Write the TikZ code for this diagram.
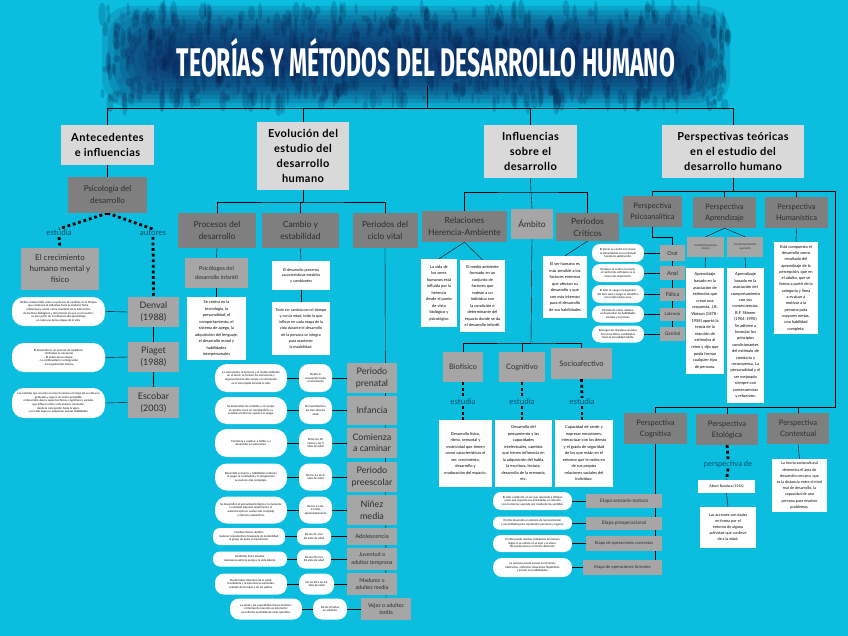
\documentclass[tikz,border=0pt]{standalone}
\usepackage{fontspec}
\setmainfont{Lato}
\newfontfamily\negrita[LetterSpace=4]{Lato}
\newfontfamily\titulofont{Fira Sans}
\usetikzlibrary{positioning}

\definecolor{cian}{RGB}{11,190,224}
\definecolor{azul1}{RGB}{34,80,150}
\definecolor{azul2}{RGB}{16,42,100}
\definecolor{azul3}{RGB}{8,22,64}
\definecolor{grisA}{RGB}{217,217,217}
\definecolor{grisB}{RGB}{127,127,127}
\definecolor{grisC}{RGB}{166,166,166}
\definecolor{texto}{RGB}{45,45,45}
\definecolor{etiq}{RGB}{8,78,108}

\pgfdeclarelayer{fondo}
\pgfdeclarelayer{lineas}
\pgfsetlayers{fondo,lineas,main}

\begin{document}
\begin{tikzpicture}[x=1pt, y=-1pt, line width=2.6pt,
    nivelA/.style={fill=grisA, text=black, font=\negrita\bfseries\fontsize{11}{15}\selectfont, align=center, inner sep=0pt},
    nivelB/.style={fill=grisB, text=texto, font=\fontsize{8.5}{12}\selectfont, align=center, inner sep=0pt},
    nivelC/.style={fill=grisC, text=texto, font=\fontsize{8}{10}\selectfont, align=center, inner sep=0pt},
    blanco/.style={fill=white, text=black, font=\fontsize{4}{6.5}\selectfont, align=center, inner sep=0pt},
    ovalo/.style={fill=white, rounded corners=#1, text=black, font=\fontsize{2.8}{3.6}\selectfont, align=center, inner sep=0pt},
    ovalo/.default=7pt,
    tam/.style 2 args={minimum width=#1pt, minimum height=#2pt},
    etiqueta/.style={text=etiq, font=\fontsize{8}{9}\selectfont, inner sep=1pt},
    punteado/.style={line width=2.8pt, dash pattern=on 2.8pt off 2.8pt},
  ]
  \useasboundingbox (0,0) rectangle (848,636);

  % fondo y banda del titulo
  \begin{pgfonlayer}{fondo}
    \fill[cian] (0,0) rectangle (848,636);
    \foreach \k in {0,...,11}
      \fill[azul2, opacity=.17, rounded corners=28pt] (102+6*\k,6+4.5*\k) rectangle (730-6*\k,107-4*\k);
    \pgfmathsetseed{11}
    \foreach \i in {1,...,650} {
      \pgfmathsetmacro\px{102+628*rnd}
      \pgfmathsetmacro\py{8+98*rnd}
      \pgfmathsetmacro\rx{1.2+2.8*rnd}
      \pgfmathsetmacro\ry{3+9*rnd}
      \fill[azul3, opacity=.2] (\px,\py) ellipse ({\rx pt} and {\ry pt});
    }
    \foreach \i in {1,...,160} {
      \pgfmathsetmacro\px{115+600*rnd}
      \pgfmathsetmacro\py{14+86*rnd}
      \pgfmathsetmacro\rx{1+2*rnd}
      \pgfmathsetmacro\ry{2+6*rnd}
      \fill[azul1, opacity=.25] (\px,\py) ellipse ({\rx pt} and {\ry pt});
    }
  \end{pgfonlayer}

  \node[text=white, font=\titulofont\bfseries\fontsize{40}{40}\selectfont, xscale=0.575] (titulo) at (426,58) {TEORÍAS Y MÉTODOS DEL DESARROLLO HUMANO};
  \coordinate (tbase) at (427,86);

  % nivel 1
  \node[nivelA, tam={93}{40}] (ante) at (107.5,145) {Antecedentes\\e influencias};
  \node[nivelA, tam={92}{68}] (evol) at (303,156) {Evolución del\\estudio del\\desarrollo\\humano};
  \node[nivelA, tam={93}{53}] (infl) at (530.5,151.5) {Influencias\\sobre el\\desarrollo};
  \node[nivelA, tam={142}{53}] (persp) at (733,151.5) {Perspectivas teóricas\\en el estudio del\\desarrollo humano};
  \coordinate (bus) at (427,108);

  % antecedentes
  \node[nivelB, font=\fontsize{8}{12}\selectfont, tam={79}{36}] (psicodes) at (107.5,195) {Psicología del\\desarrollo};
  \node[etiqueta] (estudia1) at (59,233) {estudia};
  \node[etiqueta] (autores) at (153,233) {autores};
  \node[nivelC, font=\fontsize{8}{11}\selectfont, tam={78}{42}] (crecim) at (60,269) {El crecimiento\\humano mental y\\físico};
  \node[nivelC, font=\fontsize{9}{12}\selectfont, tam={51}{30}] (denval) at (153.5,312) {Denval\\(1988)};
  \node[nivelC, font=\fontsize{9}{12}\selectfont, tam={51}{30}] (piaget) at (153.5,357) {Piaget\\(1988)};
  \node[nivelC, font=\fontsize{9}{12}\selectfont, tam={51}{31}] (escobar) at (153.5,402.5) {Escobar\\(2003)};
  \node[ovalo=12pt, tam={93}{29}] (ovden) at (58.5,311.5) {Define el desarrollo como un proceso de cambios en el tiempo\\que conducen al individuo hacia la madurez física,\\intelectual y social, como resultado de la interacción\\de factores biológicos y del entorno en que se encuentra;\\se da a partir de la influencia del aprendizaje\\en cada una de las etapas de la vida.};
  \node[ovalo=12pt, tam={93}{29}] (ovpia) at (58.5,357.5) {El desarrollo es un proceso de equilibrio:\\- El tiempo es necesario\\- El orden de las etapas\\- La continuidad y la integración\\- La organización interna};
  \node[ovalo=12pt, tam={93}{30}] (ovesc) at (58.5,403) {Los cambios que ocurren en el ser humano a lo largo de su vida son\\graduales y siguen un orden previsible;\\el desarrollo abarca aspectos físicos, cognitivos y sociales\\que influyen entre sí de manera constante,\\desde la concepción hasta la vejez,\\y en cada etapa se adquieren nuevas habilidades.};

  % evolucion
  \coordinate (evbus) at (303,202);
  \node[nivelB, tam={78}{35}] (procesos) at (217,230.5) {Procesos del\\desarrollo};
  \node[nivelB, tam={77}{35}] (cambio) at (300.5,230.5) {Cambio y\\estabilidad};
  \node[nivelB, tam={65}{35}] (periodos) at (385,230.5) {Periodos del\\ciclo vital};
  \node[nivelC, font=\fontsize{5.6}{9}\selectfont, tam={63}{30}] (psicinf) at (216.5,273) {Psicólogos del\\desarrollo infantil};
  \node[blanco, tam={59}{63}] (txtpsicinf) at (216.5,328.5) {Se centra en la\\tecnología, la\\personalidad, el\\comportamiento, el\\sistema de apego, la\\adquisición del lenguaje,\\el desarrollo moral y\\habilidades\\interpersonales};
  \node[blanco, font=\fontsize{3.8}{5.5}\selectfont, tam={58}{29}] (txtcambio1) at (301,275.5) {El desarrollo presenta\\características estables\\y cambiantes};
  \node[blanco, font=\fontsize{3.8}{6.2}\selectfont, tam={58}{53}] (txtcambio2) at (301,328.5) {Todo ser cambia con el tiempo\\y con la edad, todo lo que\\influye en cada etapa de la\\vida durante el desarrollo\\de la persona se integra\\para mantener\\la estabilidad.};

  % periodos del ciclo vital
  \node[nivelC, font=\fontsize{9}{11.5}\selectfont, tam={50}{30}] (prenatal) at (372,378) {Periodo\\prenatal};
  \node[nivelC, font=\fontsize{9}{11.5}\selectfont, tam={50}{29}] (infancia) at (372,410.5) {Infancia};
  \node[nivelC, font=\fontsize{9}{11.5}\selectfont, tam={50}{30}] (caminar) at (372,443) {Comienza\\a caminar};
  \node[nivelC, font=\fontsize{9}{11.5}\selectfont, tam={50}{30}] (preesc) at (372,477) {Periodo\\preescolar};
  \node[nivelC, font=\fontsize{9}{11.5}\selectfont, tam={50}{30}] (ninez) at (372,510) {Niñez\\media};
  \node[nivelC, font=\fontsize{5.8}{7}\selectfont, tam={50}{17}] (adolesc) at (372,536.5) {Adolescencia};
  \node[nivelC, font=\fontsize{5.4}{7.5}\selectfont, tam={50}{22}] (juventud) at (372,559) {Juventud o\\adultez temprana};
  \node[nivelC, font=\fontsize{5.4}{7.5}\selectfont, tam={50}{22}] (madurez) at (372,584) {Madurez o\\adultez media};
  \node[nivelC, font=\fontsize{5.4}{7.5}\selectfont, tam={50}{22}] (vejez) at (386,609) {Vejez o adultez\\tardía};

  \node[ovalo=10pt, tam={33}{28}] (edad1) at (315.5,378) {Desde la\\concepción hasta\\el nacimiento};
  \node[ovalo=10pt, tam={33}{27}] (edad2) at (315.5,410.5) {Del nacimiento a\\los tres años de\\edad};
  \node[ovalo=10pt, tam={33}{28}] (edad3) at (315.5,443) {Entre los 18\\meses y los 3\\años de edad};
  \node[ovalo=10pt, tam={33}{27}] (edad4) at (315.5,477) {De los 3 a los 6\\años de edad};
  \node[ovalo=10pt, tam={33}{27}] (edad5) at (315.5,510) {De los 6 a los\\11 años\\aproximadamente};
  \node[ovalo=7pt, tam={34}{17}] (edad6) at (314,536.5) {De los 11 a los\\20 años de edad};
  \node[ovalo=8pt, tam={34}{19}] (edad7) at (314,559) {De los 20 a los\\40 años de edad};
  \node[ovalo=9pt, tam={35}{21}] (edad8) at (316.5,584) {De los 40 a los 65\\años de edad};
  \node[ovalo=9pt, tam={34}{21}] (edad9) at (330,609) {De los 65 años\\en adelante};

  \node[ovalo=12pt, tam={72}{28}] (desc1) at (251,378) {La concepción, la herencia y el medio ambiente\\en el útero; se forman las estructuras y\\órganos básicos del cuerpo; el crecimiento\\es el más rápido de toda la vida.};
  \node[ovalo=12pt, tam={72}{27}] (desc2) at (251,410.5) {Se desarrollan los sentidos y el cuerpo;\\el cerebro crece en complejidad y es\\sensible al entorno; aparece el apego.};
  \node[ovalo=12pt, tam={72}{28}] (desc3) at (251,443) {Comienza a caminar, a hablar y a\\desarrollar su autonomía.};
  \node[ovalo=12pt, tam={72}{27}] (desc4) at (251,477) {Desarrolla su fuerza y habilidades motoras;\\el juego, la creatividad y la imaginación\\se vuelven más complejos.};
  \node[ovalo=12pt, tam={72}{27}] (desc5) at (251,510) {Se desarrollan el pensamiento lógico y la memoria;\\la amistad adquiere importancia; el\\autoconcepto se vuelve más complejo\\y afecta la autoestima.};
  \node[ovalo=7pt, tam={72}{17}] (desc6) at (249,536.5) {Cambios físicos rápidos;\\madurez reproductiva; búsqueda de la identidad;\\el grupo de pares es importante.};
  \node[ovalo=7pt, tam={74}{15}] (desc7) at (250,559) {Condición física máxima;\\decisiones sobre la pareja y la vida laboral.};
  \node[ovalo=9pt, tam={72}{21}] (desc8) at (251,584) {Puede haber deterioro de la salud;\\la sabiduría y la experiencia aumentan;\\cuidado de los hijos y de los padres.};
  \node[ovalo=9pt, tam={72}{21}] (desc9) at (266,609) {La salud y las capacidades físicas declinan;\\el tiempo de reacción es más lento;\\se enfrenta la pérdida de seres queridos.};

  % influencias
  \coordinate (inbus) at (531,192);
  \node[nivelB, tam={85}{31}] (relaciones) at (464.5,226.5) {Relaciones\\Herencia-Ambiente};
  \node[nivelC, font=\fontsize{8.5}{10}\selectfont, tam={42}{30}] (ambito) at (532,224) {Ámbito};
  \node[nivelB, tam={63}{28}] (criticos) at (587.5,227) {Periodos\\Críticos};
  \node[blanco, tam={36}{68}] (txther) at (439,293) {La vida de\\los seres\\humanos está\\influida por la\\herencia\\desde el punto\\de vista\\biológico y\\psicológico};
  \node[blanco, tam={45}{72}] (txtamb) at (482.5,296) {El medio ambiente\\formado en un\\conjunto de\\factores que\\rodean a un\\individuo son\\la condición o\\determinante del\\espacio donde se da\\el desarrollo infantil.};
  \node[blanco, tam={44}{62}] (txtcrit) at (565,287) {El ser humano es\\más sensible a los\\factores externos\\que afectan su\\desarrollo y que\\son más intensos\\para el desarrollo\\de sus habilidades};

  \coordinate (ambus) at (531,343);
  \node[nivelC, font=\fontsize{7.5}{9}\selectfont, tam={40}{30}] (biofis) at (463,367) {Biofísico};
  \node[nivelC, font=\fontsize{7.5}{9}\selectfont, tam={46}{30}] (cognitivo) at (522,367) {Cognitivo};
  \node[nivelC, font=\fontsize{7.5}{9}\selectfont, tam={61}{31}] (socioaf) at (581.5,363.5) {Socioafectivo};
  \node[etiqueta] (estudia2) at (463,402) {estudia};
  \node[etiqueta] (estudia3) at (522,402) {estudia};
  \node[etiqueta] (estudia4) at (582,402) {estudia};
  \node[blanco, tam={53}{67}] (txtbio) at (465.5,453.5) {Desarrollo físico,\\ritmo, sensorial y\\motricidad que tienen\\como características el\\ser, crecimiento,\\desarrollo y\\maduración del espacio.};
  \node[blanco, tam={57}{67}] (txtcog) at (523.5,453.5) {Desarrollo del\\pensamiento y las\\capacidades\\intelectuales, cambios\\que tienen influencia en\\la adquisición del habla,\\la escritura, lectura,\\desarrollo de la memoria,\\etc.};
  \node[blanco, tam={58}{67}] (txtsoc) at (584,453.5) {Capacidad de sentir y\\expresar emociones,\\interactuar con los demás\\y el grado de seguridad\\de los que están en el\\entorno que le rodea en\\de sus propias\\relaciones sociales del\\individuo.};

  % perspectivas
  \coordinate (pbus) at (733,191);
  \coordinate (pder) at (835,191);
  \coordinate (pabajo) at (835,407);
  \node[nivelB, font=\fontsize{7.5}{11}\selectfont, tam={59}{31}] (psicoan) at (652.5,211.5) {Perspectiva\\Psicoanalítica};
  \node[nivelB, font=\fontsize{7.5}{11}\selectfont, tam={63}{31}] (aprend) at (724.5,212.5) {Perspectiva\\Aprendizaje};
  \node[nivelB, font=\fontsize{7.5}{11}\selectfont, tam={63}{31}] (human) at (796.5,212.5) {Perspectiva\\Humanística};
  \coordinate (codo) at (672.5,237);
  \node[nivelC, font=\fontsize{5.5}{6}\selectfont, tam={25}{16}] (oral) at (672.5,253) {Oral};
  \node[nivelC, font=\fontsize{5.5}{6}\selectfont, tam={25}{14}] (anal) at (672.5,273) {Anal};
  \node[nivelC, font=\fontsize{5.5}{6}\selectfont, tam={25}{13}] (falica) at (672.5,294) {Fálica};
  \node[nivelC, font=\fontsize{4.3}{6}\selectfont, tam={25}{13}] (latencia) at (672.5,314) {Latencia};
  \node[nivelC, font=\fontsize{4.8}{6}\selectfont, tam={25}{14}] (genital) at (672.5,334) {Genital};
  \node[ovalo=8pt, tam={52}{18}] (ovoral) at (618,253) {El placer se centra en la boca;\\la alimentación es la principal\\fuente de satisfacción.};
  \node[ovalo=8pt, tam={52}{18}] (ovanal) at (618,273) {El placer se centra en el ano;\\el control de esfínteres es la\\tarea más importante.};
  \node[ovalo=8pt, tam={52}{18}] (ovfalica) at (618,294) {El niño se apega al progenitor\\del otro sexo y luego se identifica\\con el del mismo sexo.};
  \node[ovalo=8pt, tam={52}{17}] (ovlatencia) at (618,314) {Periodo de calma relativa;\\se desarrollan las habilidades\\sociales y escolares.};
  \node[ovalo=8pt, tam={52}{17}] (ovgenital) at (618,334) {Resurgen los impulsos sexuales\\de la fase fálica, canalizados\\hacia la sexualidad adulta.};
  \node[nivelC, font=\fontsize{2.8}{3.8}\selectfont, tam={37}{20}] (condclas) at (705.5,247) {Condicionamiento\\clásico};
  \node[nivelC, font=\fontsize{2.8}{3.8}\selectfont, tam={36}{20}] (condoper) at (745,247) {Condicionamiento\\operante};
  \node[blanco, font=\fontsize{4}{6.6}\selectfont, tam={38}{106}] (txtclas) at (705,321) {Aprendizaje\\basado en la\\asociación de\\estímulos que\\crean una\\respuesta. J.B.\\Watson (1878 -\\1958) aportó la\\teoría de la\\reacción de\\estímulos al\\reino y dijo que\\podía formar\\cualquier tipo\\de persona.};
  \node[blanco, font=\fontsize{4}{6.4}\selectfont, tam={37}{135}] (txtoper) at (745.5,335.5) {Aprendizaje\\basado en la\\asociación del\\comportamiento\\con sus\\consecuencias.\\B.F. Skinner\\(1904-1990)\\Se adhiere a\\formular los\\principios\\condicionantes\\del estímulo de\\conducta y\\recompensa. La\\personalidad y el\\ser mejorado\\siempre con\\consecuencias\\y refuerzos.};
  \node[blanco, font=\fontsize{4}{6.3}\selectfont, tam={44}{92}] (txthum) at (796,288) {Está compuesto el\\desarrollo como\\resultado del\\aprendizaje de la\\percepción, que en\\el adulto, que se\\forma a partir de la\\categoría y línea\\a evaluar a\\motivar a la\\persona para\\mayores metas,\\una habilidad\\completa.};

  \node[nivelB, font=\fontsize{7.5}{11}\selectfont, tam={63}{31}] (cognit) at (655.5,428.5) {Perspectiva\\Cognitiva};
  \node[nivelB, font=\fontsize{7.5}{11}\selectfont, tam={62}{31}] (etolog) at (727,429.5) {Perspectiva\\Etológica};
  \node[nivelB, font=\fontsize{7.5}{11}\selectfont, tam={62}{31}] (context) at (798,428.5) {Perspectiva\\Contextual};
  \node[nivelC, font=\fontsize{4.8}{6}\selectfont, tam={76}{14}] (etapa1) at (624,501) {Etapa sensorio-motora};
  \node[nivelC, font=\fontsize{4.8}{6}\selectfont, tam={76}{13}] (etapa2) at (624,523) {Etapa preoperacional};
  \node[nivelC, font=\fontsize{4.2}{6}\selectfont, tam={76}{15}] (etapa3) at (624,543.5) {Etapa de operaciones concretas};
  \node[nivelC, font=\fontsize{4.2}{6}\selectfont, tam={79}{15}] (etapa4) at (622.5,567.5) {Etapa de operaciones formales};
  \node[ovalo=8pt, tam={79}{18}] (oveta1) at (532.5,501) {El niño cambia de un ser que responde a reflejos\\a uno que organiza sus actividades en relación\\con el entorno; aprende por medio de los sentidos.};
  \node[ovalo=6pt, tam={79}{13}] (oveta2) at (532.5,523) {El niño desarrolla un sistema de representación\\y usa símbolos para representar personas y lugares.};
  \node[ovalo=8pt, tam={79}{17}] (oveta3) at (532.5,543.5) {El niño puede resolver problemas de manera\\lógica si se enfoca en el aquí y el ahora.\\No puede pensar en forma abstracta.};
  \node[ovalo=9pt, tam={79}{19}] (oveta4) at (532.5,567.5) {La persona puede pensar en términos\\abstractos, enfrentar situaciones hipotéticas\\y pensar en posibilidades.};
  \node[etiqueta, font=\fontsize{7.5}{9}\selectfont] (persde) at (728,464) {perspectiva de};
  \node[blanco, font=\fontsize{3.5}{4}\selectfont, tam={57}{13}] (bandura) at (726.5,486.5) {Albert Bandura (1926)};
  \node[blanco, font=\fontsize{3.8}{6}\selectfont, tam={56}{41}] (txtetol) at (728,527.5) {Las acciones son dadas\\en forma por el\\entorno de alguna\\actividad que conlleve\\de a la edad.};
  \node[blanco, font=\fontsize{3.8}{6.2}\selectfont, tam={55}{53}] (txtcont) at (799.5,485.5) {La teoría sociocultural\\determina el área de\\desarrollo cercano, que\\es la distancia entre el nivel\\real de desarrollo, la\\capacidad de una\\persona para resolver\\problemas.};

  % conectores
  \begin{pgfonlayer}{lineas}
    \draw (tbase) -- (bus);
    \draw (ante.north) |- (bus) -| (persp.north);
    \draw (evol.north) |- (bus);
    \draw (infl.north) |- (bus);
    % antecedentes
    \draw (ante.south) -- (psicodes.north);
    \draw[punteado] (psicodes.south) -- (estudia1.north);
    \draw[punteado] (estudia1.south) -- (crecim.north);
    \draw[punteado] (psicodes.south) -- (autores.north);
    \draw[punteado] (autores.south) -- (denval.north);
    \draw (denval.south) -- (piaget.north);
    \draw (piaget.south) -- (escobar.north);
    \draw (ovden.east) -- (denval.west);
    \draw (ovpia.east) -- (piaget.west);
    \draw (ovesc.east) -- (escobar.west);
    % evolucion
    \draw (evol.south) -- (evbus);
    \draw (procesos.north) |- (evbus) -| (periodos.north);
    \draw (cambio.north) |- (evbus);
    \draw (procesos.south) -- (psicinf.north);
    \draw (psicinf.south) -- (txtpsicinf.north);
    \draw (cambio.south) -- (txtcambio1.north);
    \draw (txtcambio1.south) -- (txtcambio2.north);
    \draw (periodos.south) -- (vejez.north);
    \foreach \p/\e/\d in {prenatal/edad1/desc1, infancia/edad2/desc2, caminar/edad3/desc3,
        preesc/edad4/desc4, ninez/edad5/desc5, adolesc/edad6/desc6, juventud/edad7/desc7,
        madurez/edad8/desc8, vejez/edad9/desc9}
      \draw (\p.west) -- (\e.east) (\e.west) -- (\d.east);
    % influencias
    \draw (infl.south) -- (inbus);
    \draw (relaciones.north) |- (inbus) -| (criticos.north);
    \draw (inbus) -- (ambito.north);
    \draw (relaciones.south) -- (txther.north);
    \draw (relaciones.south) -- (txtamb.north);
    \draw (criticos.south) -- (txtcrit.north);
    \draw (ambito.south) -- (ambus);
    \draw (biofis.north) |- (ambus) -| (socioaf.north);
    \draw (cognitivo.north) |- (ambus);
    \draw[punteado] (biofis.south) -- (estudia2.north);
    \draw[punteado] (estudia2.south) -- (estudia2.south |- txtbio.north);
    \draw[punteado] (cognitivo.south) -- (estudia3.north);
    \draw[punteado] (estudia3.south) -- (estudia3.south |- txtcog.north);
    \draw[punteado] (socioaf.south) -- (estudia4.north);
    \draw[punteado] (estudia4.south) -- (estudia4.south |- txtsoc.north);
    % perspectivas
    \draw (persp.south) -- (pbus);
    \draw (psicoan.north) |- (pder) -- (pabajo) -| (cognit.north);
    \draw (aprend.north) |- (pbus);
    \draw (human.north) |- (pbus);
    \draw (etolog.north) |- (pabajo);
    \draw (context.north) |- (pabajo);
    \draw (psicoan.south) |- (codo) -- (oral.north);
    \draw (oral.south) -- (genital.north);
    \foreach \s/\o in {oral/ovoral, anal/ovanal, falica/ovfalica, latencia/ovlatencia, genital/ovgenital}
      \draw (\o.east) -- (\s.west);
    \draw (aprend.south) -- (condclas.north);
    \draw (aprend.south) -- (condoper.north);
    \draw (condclas.south) -- (txtclas.north);
    \draw (condoper.south) -- (txtoper.north);
    \draw (human.south) -- (txthum.north);
    \draw (cognit.south) -- (cognit.south |- etapa4.center);
    \foreach \s/\o in {etapa1/oveta1, etapa2/oveta2, etapa3/oveta3, etapa4/oveta4}
      \draw (\o.east) -- (\s.west);
    \draw[punteado] (etolog.south) -- (persde.north);
    \draw[punteado] (persde.south) -- (bandura.north);
    \draw (bandura.south) -- (txtetol.north);
    \draw (context.south) -- (txtcont.north);
  \end{pgfonlayer}
\end{tikzpicture}
\end{document}
